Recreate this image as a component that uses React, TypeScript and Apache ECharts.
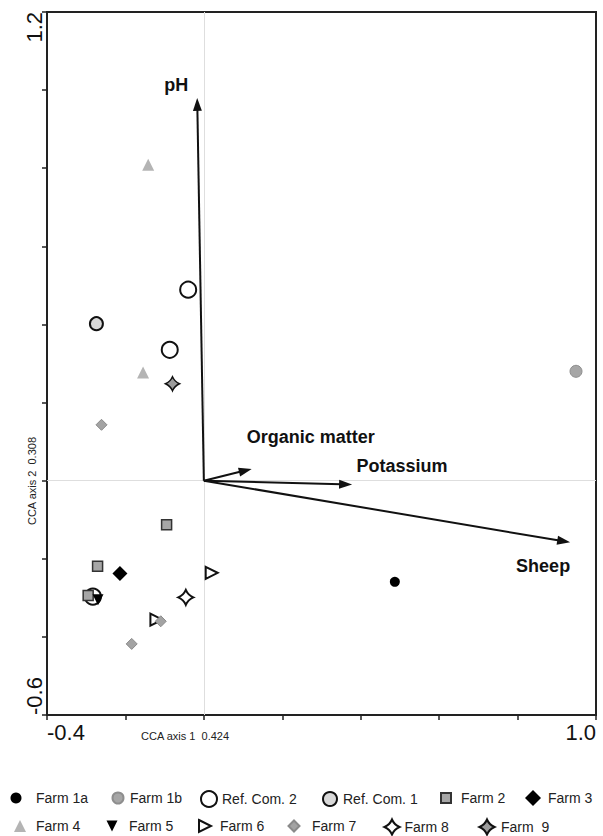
import React, { useEffect, useRef } from 'react';
import * as echarts from 'echarts';

// ---------------- data ----------------
const seriesNames = ['Farm 1a', 'Farm 1b', 'Ref. Com. 2', 'Ref. Com. 1', 'Farm 2', 'Farm 3', 'Farm 4', 'Farm 5', 'Farm 6', 'Farm 7', 'Farm 8', 'Farm  9'];

const farm1a = [[0.487, -0.259]];
const farm1b = [[0.949, 0.280]];
const refCom2 = [[-0.040, 0.489], [-0.087, 0.335], [-0.283, -0.297]];
const refCom1 = [[-0.274, 0.402]];
const farm2 = [[-0.095, -0.113], [-0.271, -0.219], [-0.295, -0.294]];
const farm3 = [[-0.214, -0.238]];
const farm4 = [[-0.142, 0.809], [-0.155, 0.277]];
const farm5 = [[-0.270, -0.305]];
const farm6 = [[0.020, -0.236], [-0.121, -0.356]];
const farm7 = [[-0.261, 0.143], [-0.110, -0.360], [-0.184, -0.418]];
const farm8 = [[-0.046, -0.299]];
const farm9 = [[-0.080, 0.248]];
const seriesData = [farm1a, farm1b, refCom2, refCom1, farm2, farm3, farm4, farm5, farm6, farm7, farm8, farm9];

const vectorNames = ['pH', 'Organic matter', 'Potassium', 'Sheep'];
const vectorX = [-0.017, 0.122, 0.378, 0.934];
const vectorY = [0.980, 0.030, -0.010, -0.158];

const xMin = -0.4;
const xMax = 1.0;
const yMin = -0.6;
const yMax = 1.2;
const tickStep = 0.2;
const xTickLabels = ['-0.4', '1.0'];
const yTickLabels = ['-0.6', '1.2'];
const axis1Title = 'CCA axis 1  0.424';
const axis2Title = 'CCA axis 2  0.308';

// ---------------- styles ----------------
const FONT = '"Liberation Sans", Arial, Helvetica, sans-serif';
const STAR = 'path://M10,0 Q13,7 20,10 Q13,13 10,20 Q7,13 0,10 Q7,7 10,0 Z';
const RIGHT_TRI = 'path://M0,0 L20,10 L0,20 Z';
const DOWN_TRI = 'path://M0,0 L20,0 L10,20 Z';

type Sty = { symbol: string; size: number; color: string; border?: string; bw?: number };
const seriesStyles: Sty[] = [
  { symbol: 'circle', size: 10, color: '#000000' },
  { symbol: 'circle', size: 12, color: '#a6a6a6', border: '#8e8e8e', bw: 1 },
  { symbol: 'circle', size: 16, color: '#ffffff', border: '#111111', bw: 2 },
  { symbol: 'circle', size: 13, color: '#d9d9d9', border: '#111111', bw: 2 },
  { symbol: 'rect', size: 10, color: '#a6a6a6', border: '#333333', bw: 1.5 },
  { symbol: 'diamond', size: 15, color: '#000000' },
  { symbol: 'triangle', size: 12, color: '#b4b4b4' },
  { symbol: DOWN_TRI, size: 11, color: '#000000' },
  { symbol: RIGHT_TRI, size: 12, color: '#ffffff', border: '#111111', bw: 2 },
  { symbol: 'diamond', size: 11, color: '#a3a3a3', border: '#8a8a8a', bw: 1 },
  { symbol: STAR, size: 15, color: '#ffffff', border: '#111111', bw: 2 },
  { symbol: STAR, size: 14, color: '#9c9c9c', border: '#111111', bw: 1.5 },
];

// legend layout: icon centre x, text start x, row centre y, icon size
const legendLayout = [
  { c: 16, t: 36, y: 798, s: 11 },
  { c: 117, t: 129, y: 798, s: 11 },
  { c: 208, t: 219, y: 798, s: 16 },
  { c: 329, t: 342, y: 798, s: 14 },
  { c: 445, t: 460, y: 798, s: 10 },
  { c: 533, t: 548, y: 798, s: 16 },
  { c: 20, t: 36, y: 826, s: 12 },
  { c: 112, t: 129, y: 826, s: 11 },
  { c: 204, t: 219, y: 826, s: 12 },
  { c: 293, t: 311, y: 826, s: 11 },
  { c: 391, t: 402, y: 826, s: 15 },
  { c: 486, t: 500, y: 826, s: 15 },
];

const vectorLabelOffsets = [[-21, -13], [59, -32], [50, -19], [-27, 24]];

function buildOption() {
  const scatterSeries = seriesNames.map((name, i) => {
    const st = seriesStyles[i];
    const s: any = {
      type: 'scatter',
      name,
      data: seriesData[i],
      symbol: st.symbol,
      symbolSize: st.size,
      itemStyle: {
        color: st.color,
        borderColor: st.border || st.color,
        borderWidth: st.bw || 0,
        opacity: 1,
      },
      z: 4,
    };
    if (i === 0) {
      s.markLine = {
        silent: true,
        symbol: ['none', 'none'],
        label: { show: false },
        lineStyle: { color: '#dedede', width: 1, type: 'solid' },
        data: [{ xAxis: 0 }, { yAxis: 0 }],
        z: 1,
      };
    }
    return s;
  });

  const vectorSeries = {
    type: 'custom',
    name: 'vectors',
    coordinateSystem: 'cartesian2d',
    data: vectorX.map((x, i) => [x, vectorY[i]]),
    encode: { x: 0, y: 1 },
    clip: false,
    z: 3,
    renderItem: (params: any, api: any) => {
      const i = params.dataIndex;
      const o = api.coord([0, 0]);
      const p = api.coord([api.value(0), api.value(1)]);
      const dx = p[0] - o[0];
      const dy = p[1] - o[1];
      const len = Math.hypot(dx, dy);
      const ux = dx / len;
      const uy = dy / len;
      const headLen = 13;
      const headW = 4.5;
      const bx = p[0] - ux * headLen;
      const by = p[1] - uy * headLen;
      const off = vectorLabelOffsets[i];
      return {
        type: 'group',
        children: [
          { type: 'line', shape: { x1: o[0], y1: o[1], x2: bx + ux * 2, y2: by + uy * 2 }, style: { stroke: '#111', lineWidth: 2 } },
          {
            type: 'polygon',
            shape: { points: [[p[0], p[1]], [bx - uy * headW, by + ux * headW], [bx + uy * headW, by - ux * headW]] },
            style: { fill: '#111' },
          },
          {
            type: 'text',
            x: p[0] + off[0],
            y: p[1] + off[1],
            style: {
              text: vectorNames[i],
              font: 'bold 18px ' + FONT,
              fill: '#111',
              align: 'center',
              verticalAlign: 'middle',
            },
          },
        ],
      };
    },
  };

  const legends = seriesNames.map((name, i) => {
    const L = legendLayout[i];
    const h = Math.max(L.s, 14);
    return {
      data: [name],
      left: L.c - L.s / 2,
      top: L.y - h / 2,
      itemWidth: L.s,
      itemHeight: L.s,
      padding: 0,
      itemGap: 0,
      selectedMode: false,
      symbolKeepAspect: true,
      textStyle: {
        fontSize: 14,
        fontFamily: FONT,
        color: '#222',
        padding: [0, 0, 0, Math.max(0, L.t - L.c - L.s / 2 - 5)],
      },
    };
  });

  const near = (a: number, b: number) => Math.abs(a - b) < 1e-6;

  return {
    animation: false,
    backgroundColor: '#ffffff',
    textStyle: { fontFamily: FONT },
    grid: {
      left: 47,
      right: 7,
      top: 12,
      bottom: 121,
      show: true,
      borderColor: '#222',
      borderWidth: 2,
      backgroundColor: 'transparent',
    },
    xAxis: {
      type: 'value',
      min: xMin,
      max: xMax,
      interval: tickStep,
      axisLine: { show: true, onZero: false, lineStyle: { color: '#222', width: 2 } },
      axisTick: { show: true, length: 5, lineStyle: { color: '#222', width: 1.5 } },
      splitLine: { show: false },
      axisLabel: {
        interval: 0,
        fontSize: 22,
        fontFamily: FONT,
        color: '#111',
        margin: 6,
        alignMinLabel: 'left',
        alignMaxLabel: 'right',
        formatter: (v: number) => (near(v, xMin) ? xTickLabels[0] : near(v, xMax) ? xTickLabels[1] : ''),
      },
    },
    yAxis: {
      type: 'value',
      min: yMin,
      max: yMax,
      interval: tickStep,
      axisLine: { show: true, onZero: false, lineStyle: { color: '#222', width: 2 } },
      axisTick: { show: true, length: 5, lineStyle: { color: '#222', width: 1.5 } },
      splitLine: { show: false },
      axisLabel: {
        interval: 0,
        rotate: 90,
        fontSize: 22,
        fontFamily: FONT,
        color: '#111',
        margin: 2,
        alignMinLabel: 'left',
        alignMaxLabel: 'right',
        formatter: (v: number) => (near(v, yMin) ? yTickLabels[0] : near(v, yMax) ? yTickLabels[1] : ''),
      },
    },
    legend: legends,
    graphic: [
      {
        type: 'text',
        left: 141,
        top: 730,
        style: { text: axis1Title, font: '11px ' + FONT, fill: '#222' },
      },
      {
        type: 'text',
        x: 32,
        y: 481,
        rotation: Math.PI / 2,
        style: { text: axis2Title, font: '11px ' + FONT, fill: '#222', align: 'center', verticalAlign: 'middle' },
      },
    ],
    series: [...scatterSeries, vectorSeries],
  };
}

export default function App() {
  const ref = useRef<HTMLDivElement>(null);
  useEffect(() => {
    if (!ref.current) return;
    const chart = echarts.init(ref.current, null, { renderer: 'svg' });
    chart.setOption(buildOption() as any);
    return () => chart.dispose();
  }, []);
  return (
    <div
      ref={ref}
      style={{ position: 'fixed', left: 0, top: 0, width: 603, height: 836, background: '#fff' }}
    />
  );
}
